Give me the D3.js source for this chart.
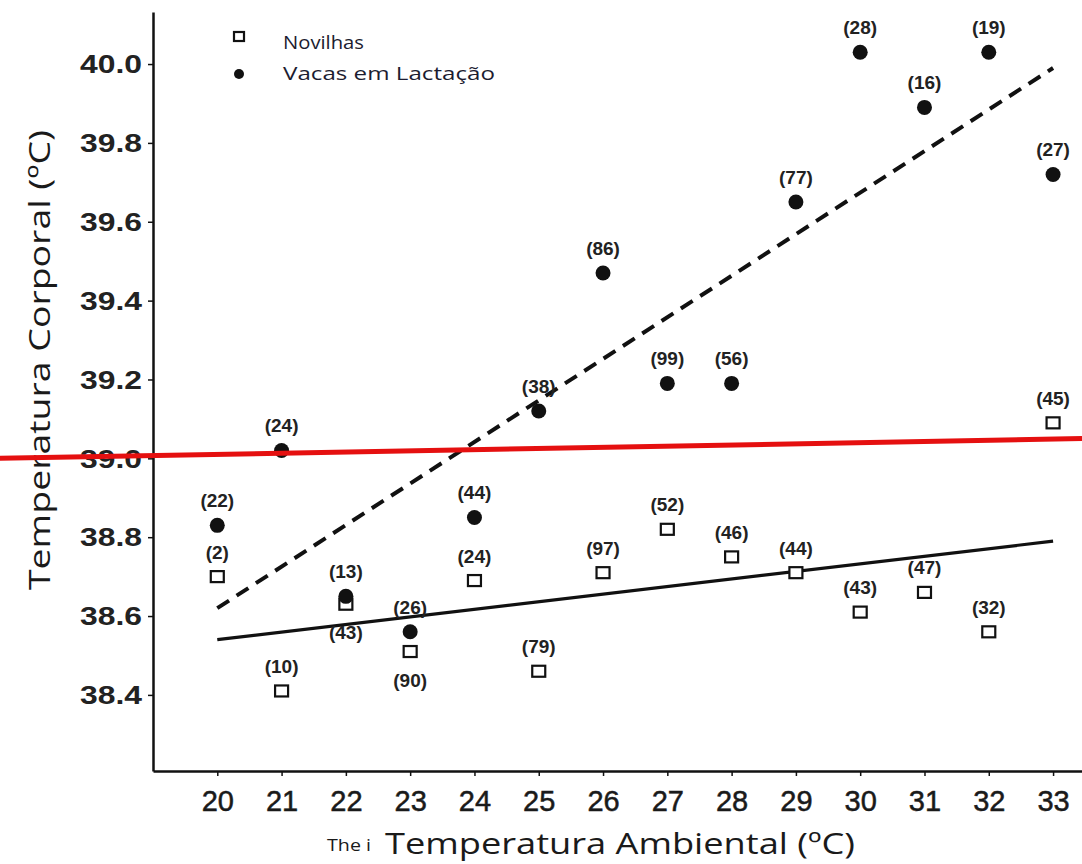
<!DOCTYPE html>
<html>
<head>
<meta charset="utf-8">
<script src="https://cdn.jsdelivr.net/npm/d3@7"></script>
<style>
  html, body { margin: 0; padding: 0; background: #fff; }
  svg { display: block; }
</style>
</head>
<body>
<svg id="chart" width="1082" height="864"></svg>
<script>
// Ambient temperature (°C) on the x axis
const temps = [20, 21, 22, 23, 24, 25, 26, 27, 28, 29, 30, 31, 32, 33];

// Mean body temperature per ambient temperature, heifers
const novilhas = [38.70, 38.41, 38.63, 38.51, 38.69, 38.46, 38.71, 38.82, 38.75, 38.71, 38.61, 38.66, 38.56, 39.09];
// Number of observations, heifers
const novilhasN = [2, 10, 43, 90, 24, 79, 97, 52, 46, 44, 43, 47, 32, 45];

// Mean body temperature per ambient temperature, lactating cows
const vacas = [38.83, 39.02, 38.65, 38.56, 38.85, 39.12, 39.47, 39.19, 39.19, 39.65, 40.03, 39.89, 40.03, 39.72];
// Number of observations, lactating cows
const vacasN = [22, 24, 13, 26, 44, 38, 86, 99, 56, 77, 28, 16, 19, 27];

// Fitted regression lines (endpoints at 20 and 33 °C)
const fitX = [20, 33];
const fitNovilhas = [38.54, 38.79];
const fitVacas = [38.62, 39.99];

// Reference line near 39 °C, spanning the whole figure
const refX = [16.6, 33.45];
const refY = [39.0, 39.05];

// Tick labels
const xTicks = [20, 21, 22, 23, 24, 25, 26, 27, 28, 29, 30, 31, 32, 33];
const yTicks = [38.4, 38.6, 38.8, 39.0, 39.2, 39.4, 39.6, 39.8, 40.0];

const legendLabels = ["Novilhas", "Vacas em Lactação"];
const xTitle = "Temperatura Ambiental (ºC)";
const yTitle = "Temperatura Corporal (ºC)";

// ---------------------------------------------------------------
const svg = d3.select("#chart");
const plotLeft = 153, plotRight = 1082, plotTop = 12, plotBottom = 771;

const x = d3.scaleLinear().domain([19, 33.45]).range([plotLeft, plotRight]);
const y = d3.scaleLinear().domain([38.207, 40.132]).range([plotBottom, plotTop]);

const ink = "#111";
const numFont = "'Liberation Sans', Arial, sans-serif";
const textFont = "'Open Sans', 'Noto Sans', sans-serif";

// Axes
const xAxis = svg.append("g")
  .attr("transform", `translate(0,${plotBottom})`)
  .call(d3.axisBottom(x).tickValues(xTicks).tickSize(5).tickSizeOuter(0).tickFormat(d3.format("d")));
xAxis.select(".domain").attr("stroke", ink).attr("stroke-width", 2.5);
xAxis.selectAll(".tick line").attr("stroke", ink).attr("stroke-width", 1.5);
xAxis.selectAll(".tick text")
  .attr("fill", "#1a1a1a")
  .attr("font-family", numFont)
  .attr("font-size", 29)
  .attr("dy", 0)
  .attr("y", 40)
  .attr("stroke", "#1a1a1a")
  .attr("stroke-width", 0.5);

const yAxis = svg.append("g")
  .attr("transform", `translate(${plotLeft},0)`)
  .call(d3.axisLeft(y).tickValues(yTicks).tickSize(5).tickSizeOuter(0).tickFormat(d3.format(".1f")));
yAxis.select(".domain").attr("stroke", ink).attr("stroke-width", 2.5);
yAxis.selectAll(".tick line").attr("stroke", ink).attr("stroke-width", 1.5);
yAxis.selectAll(".tick text")
  .attr("fill", "#222")
  .attr("font-family", numFont)
  .attr("font-weight", "bold")
  .attr("font-size", 25)
  .attr("x", -11)
  .attr("dy", "0.35em")
  .attr("textLength", 62)
  .attr("lengthAdjust", "spacingAndGlyphs");

// Axis titles
svg.append("text")
  .attr("x", 385).attr("y", 854)
  .attr("font-family", textFont)
  .attr("font-size", 30)
  .attr("fill", "#1a1a1a")
  .attr("textLength", 470)
  .attr("lengthAdjust", "spacingAndGlyphs")
  .text(xTitle);

svg.append("text")
  .attr("x", 327).attr("y", 851)
  .attr("font-family", textFont)
  .attr("font-size", 17)
  .attr("fill", "#1a1a1a")
  .attr("textLength", 44)
  .attr("lengthAdjust", "spacingAndGlyphs")
  .text("The i");

svg.append("text")
  .attr("transform", `translate(50,${590}) rotate(-90)`)
  .attr("font-family", textFont)
  .attr("font-size", 30)
  .attr("fill", "#1a1a1a")
  .attr("textLength", 460)
  .attr("lengthAdjust", "spacingAndGlyphs")
  .text(yTitle);

// Regression lines
const fitLine = d3.line().x(d => x(d[0])).y(d => y(d[1]));
svg.append("path")
  .datum(d3.zip(fitX, fitNovilhas))
  .attr("d", fitLine)
  .attr("fill", "none")
  .attr("stroke", ink)
  .attr("stroke-width", 3.2);

svg.append("path")
  .datum(d3.zip(fitX, fitVacas))
  .attr("d", fitLine)
  .attr("fill", "none")
  .attr("stroke", ink)
  .attr("stroke-width", 4)
  .attr("stroke-dasharray", "14,9");

// Heifer points (open squares)
const sq = 13;
const novData = temps.map((t, i) => ({ t, v: novilhas[i], n: novilhasN[i] }));
svg.append("g").selectAll("rect")
  .data(novData)
  .join("rect")
  .attr("x", d => x(d.t) - sq / 2)
  .attr("y", d => y(d.v) - sq / 2 + 1)
  .attr("width", sq)
  .attr("height", sq - 2)
  .attr("fill", "#fff")
  .attr("stroke", ink)
  .attr("stroke-width", 2.2);

// Lactating cow points (filled circles)
const vacData = temps.map((t, i) => ({ t, v: vacas[i], n: vacasN[i] }));
svg.append("g").selectAll("circle")
  .data(vacData)
  .join("circle")
  .attr("cx", d => x(d.t))
  .attr("cy", d => y(d.v))
  .attr("r", 7.5)
  .attr("fill", ink);

// Observation count labels; a few heifer labels sit under their point
const labelBelow = [22, 23];
function countLabels(data, isNovilhas) {
  svg.append("g").selectAll("text")
    .data(data)
    .join("text")
    .attr("x", d => x(d.t))
    .attr("y", d => {
      const below = isNovilhas && labelBelow.includes(d.t);
      return y(d.v) + (below ? 35 : -18);
    })
    .attr("text-anchor", "middle")
    .attr("font-family", numFont)
    .attr("font-weight", "bold")
    .attr("font-size", 19)
    .attr("fill", "#222")
    .text(d => `(${d.n})`);
}
countLabels(novData, true);
countLabels(vacData, false);

// Red reference line
svg.append("path")
  .datum(d3.zip(refX, refY))
  .attr("d", fitLine)
  .attr("fill", "none")
  .attr("stroke", "#e51010")
  .attr("stroke-width", 5);

// Legend
const legend = svg.append("g");
legend.append("rect")
  .attr("x", 234).attr("y", 32)
  .attr("width", 10).attr("height", 9)
  .attr("fill", "#fff")
  .attr("stroke", ink)
  .attr("stroke-width", 2.2);
legend.append("circle")
  .attr("cx", 239).attr("cy", 74)
  .attr("r", 5)
  .attr("fill", ink);
legend.selectAll("text")
  .data(legendLabels)
  .join("text")
  .attr("x", 283)
  .attr("y", (d, i) => 49 + i * 31)
  .attr("font-family", textFont)
  .attr("font-size", 18)
  .attr("fill", "#1c1c30")
  .attr("textLength", (d, i) => [81, 212][i])
  .attr("lengthAdjust", "spacingAndGlyphs")
  .text(d => d);
</script>
</body>
</html>
